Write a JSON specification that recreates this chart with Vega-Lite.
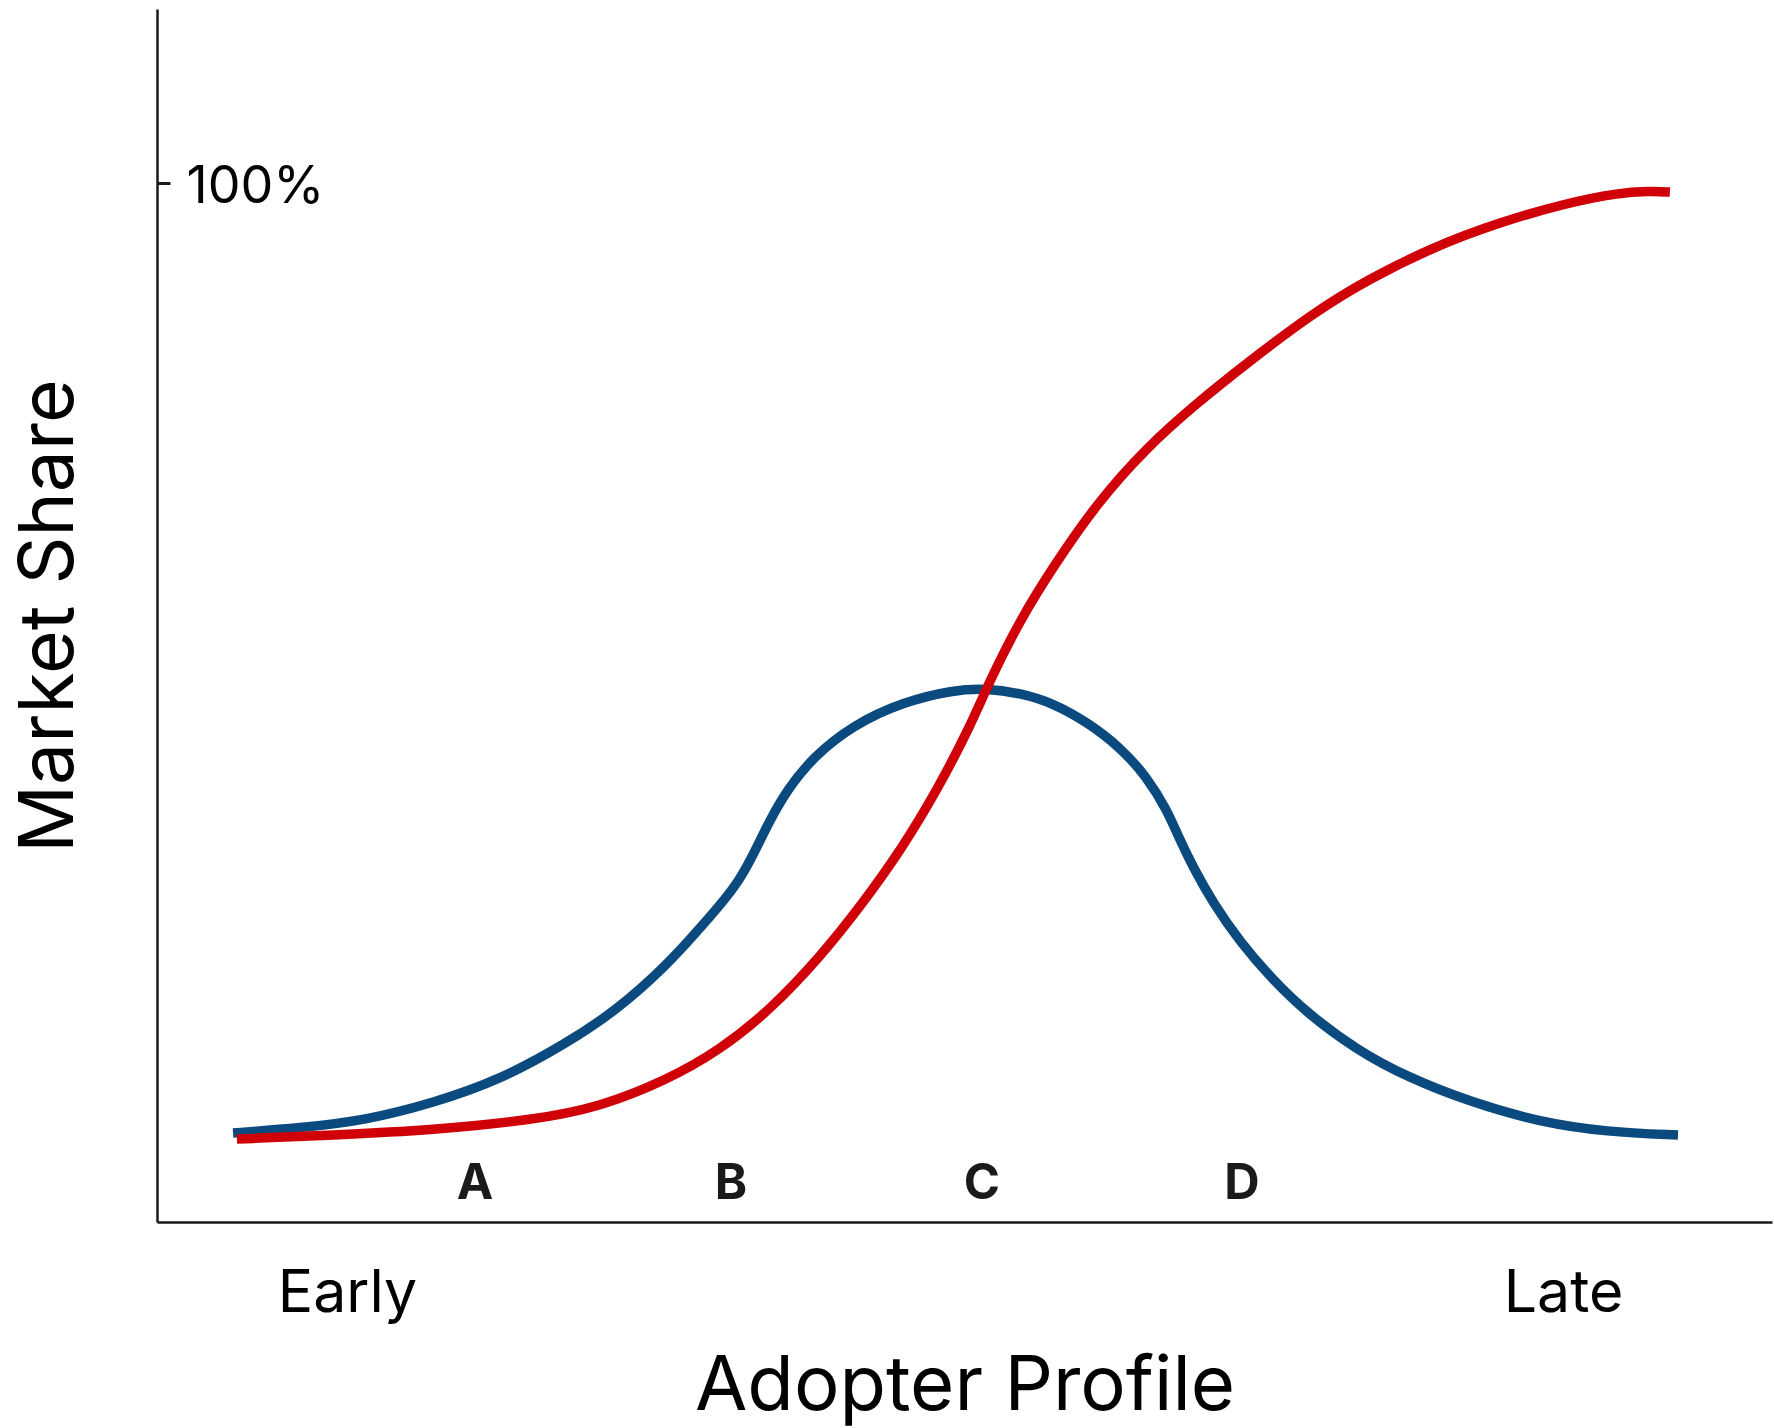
{
  "$schema": "https://vega.github.io/schema/vega-lite/v6.json",
  "autosize": {"type": "none"},
  "padding": {"left": 157, "top": 9, "right": 2, "bottom": 206},
  "width": 1615,
  "height": 1213,
  "background": "white",
  "config": {"view": {"stroke": null}, "font": "Inter"},
  "datasets": {
    "curves": [
      {"series": "Share", "x": 4.71, "y": 0.11},
      {"series": "Share", "x": 8.85, "y": 0.63},
      {"series": "Share", "x": 13.0, "y": 1.47},
      {"series": "Share", "x": 17.09, "y": 3.26},
      {"series": "Share", "x": 21.24, "y": 5.68},
      {"series": "Share", "x": 25.39, "y": 9.57},
      {"series": "Share", "x": 28.48, "y": 13.04},
      {"series": "Share", "x": 31.58, "y": 17.77},
      {"series": "Share", "x": 33.62, "y": 21.66},
      {"series": "Share", "x": 34.86, "y": 24.08},
      {"series": "Share", "x": 36.1, "y": 26.71},
      {"series": "Share", "x": 37.15, "y": 30.18},
      {"series": "Share", "x": 37.96, "y": 33.02},
      {"series": "Share", "x": 39.01, "y": 36.17},
      {"series": "Share", "x": 40.62, "y": 39.64},
      {"series": "Share", "x": 43.1, "y": 43.01},
      {"series": "Share", "x": 46.19, "y": 45.43},
      {"series": "Share", "x": 49.29, "y": 46.69},
      {"series": "Share", "x": 51.39, "y": 46.85},
      {"series": "Share", "x": 53.44, "y": 46.37},
      {"series": "Share", "x": 55.48, "y": 45.32},
      {"series": "Share", "x": 57.59, "y": 43.32},
      {"series": "Share", "x": 59.63, "y": 40.69},
      {"series": "Share", "x": 61.3, "y": 37.54},
      {"series": "Share", "x": 62.54, "y": 34.07},
      {"series": "Share", "x": 63.34, "y": 30.91},
      {"series": "Share", "x": 64.15, "y": 28.08},
      {"series": "Share", "x": 65.39, "y": 24.29},
      {"series": "Share", "x": 67.06, "y": 20.19},
      {"series": "Share", "x": 69.1, "y": 16.19},
      {"series": "Share", "x": 71.21, "y": 12.72},
      {"series": "Share", "x": 74.3, "y": 8.83},
      {"series": "Share", "x": 77.4, "y": 5.99},
      {"series": "Share", "x": 81.49, "y": 3.26},
      {"series": "Share", "x": 85.63, "y": 1.26},
      {"series": "Share", "x": 89.78, "y": 0.21},
      {"series": "Share", "x": 94.18, "y": -0.11},
      {"series": "Cumulative", "x": 4.95, "y": -0.53},
      {"series": "Cumulative", "x": 10.9, "y": -0.11},
      {"series": "Cumulative", "x": 17.09, "y": 0.42},
      {"series": "Cumulative", "x": 23.28, "y": 1.47},
      {"series": "Cumulative", "x": 27.43, "y": 2.84},
      {"series": "Cumulative", "x": 31.58, "y": 5.68},
      {"series": "Cumulative", "x": 34.86, "y": 8.83},
      {"series": "Cumulative", "x": 37.96, "y": 13.04},
      {"series": "Cumulative", "x": 41.05, "y": 18.61},
      {"series": "Cumulative", "x": 43.53, "y": 23.87},
      {"series": "Cumulative", "x": 46.19, "y": 30.18},
      {"series": "Cumulative", "x": 48.3, "y": 36.17},
      {"series": "Cumulative", "x": 50.34, "y": 42.8},
      {"series": "Cumulative", "x": 51.58, "y": 47.74},
      {"series": "Cumulative", "x": 53.44, "y": 54.05},
      {"series": "Cumulative", "x": 55.48, "y": 59.62},
      {"series": "Cumulative", "x": 58.2, "y": 66.35},
      {"series": "Cumulative", "x": 61.3, "y": 72.24},
      {"series": "Cumulative", "x": 64.4, "y": 76.87},
      {"series": "Cumulative", "x": 67.49, "y": 81.07},
      {"series": "Cumulative", "x": 71.58, "y": 86.33},
      {"series": "Cumulative", "x": 74.92, "y": 89.8},
      {"series": "Cumulative", "x": 79.01, "y": 93.27},
      {"series": "Cumulative", "x": 83.16, "y": 95.9},
      {"series": "Cumulative", "x": 87.31, "y": 97.9},
      {"series": "Cumulative", "x": 90.4, "y": 98.95},
      {"series": "Cumulative", "x": 92.45, "y": 99.16},
      {"series": "Cumulative", "x": 93.68, "y": 99.05}
    ],
    "letters": [
      {"label": "A", "x": 19.69, "y": -6.83},
      {"label": "B", "x": 35.54, "y": -6.83},
      {"label": "C", "x": 51.08, "y": -6.83},
      {"label": "D", "x": 67.18, "y": -6.83}
    ]
  },
  "encoding": {
    "x": {
      "field": "x", "type": "quantitative",
      "scale": {"domain": [0, 100], "nice": false, "zero": false},
      "axis": {
        "title": "Adopter Profile",
        "titleFont": "Inter", "titleFontSize": 76, "titleFontWeight": "normal", "titleColor": "#000000",
        "titleBaseline": "alphabetic", "titlePadding": 87,
        "minExtent": 100, "maxExtent": 100,
        "values": [11.76, 87.06],
        "labelExpr": "datum.value < 50 ? 'Early' : 'Late'",
        "labelFont": "Inter", "labelFontSize": 59, "labelColor": "#000000",
        "labelBaseline": "alphabetic", "labelAlign": "center", "labelPadding": 89,
        "labelFlush": false, "labelOverlap": false,
        "ticks": false, "tickSize": 0, "grid": false,
        "domainColor": "#1a1a1a", "domainWidth": 2.5
      }
    },
    "y": {
      "field": "y", "type": "quantitative",
      "scale": {"domain": [-9.25, 118.3], "nice": false, "zero": false},
      "axis": {
        "title": "Market Share",
        "titleFont": "Inter", "titleFontSize": 75, "titleFontWeight": "normal", "titleColor": "#000000",
        "titleBaseline": "alphabetic", "titlePadding": 85,
        "minExtent": 0, "maxExtent": 0,
        "values": [100],
        "labelExpr": "'100%'",
        "labelFont": "Inter", "labelFontSize": 52, "labelColor": "#000000",
        "labelAlign": "left", "labelBaseline": "alphabetic", "labelPadding": -16, "labelOffset": 19,
        "labelFlush": false, "labelOverlap": false,
        "ticks": true, "tickSize": -13, "tickWidth": 3, "tickColor": "#1a1a1a",
        "grid": false,
        "domainColor": "#1a1a1a", "domainWidth": 2.5
      }
    }
  },
  "layer": [
    {
      "data": {"name": "curves"},
      "mark": {"type": "line", "interpolate": "basis", "strokeWidth": 9.5, "strokeCap": "butt"},
      "encoding": {
        "color": {
          "field": "series", "type": "nominal",
          "scale": {"domain": ["Share", "Cumulative"], "range": ["#0b4a7f", "#cf0007"]},
          "legend": null
        },
        "order": {"field": "x", "type": "quantitative"}
      }
    },
    {
      "data": {"name": "letters"},
      "mark": {"type": "text", "font": "Inter", "fontSize": 49, "fontWeight": "bold", "color": "#1a1a1a", "align": "center", "baseline": "alphabetic"},
      "encoding": {"text": {"field": "label", "type": "nominal"}}
    }
  ]
}
